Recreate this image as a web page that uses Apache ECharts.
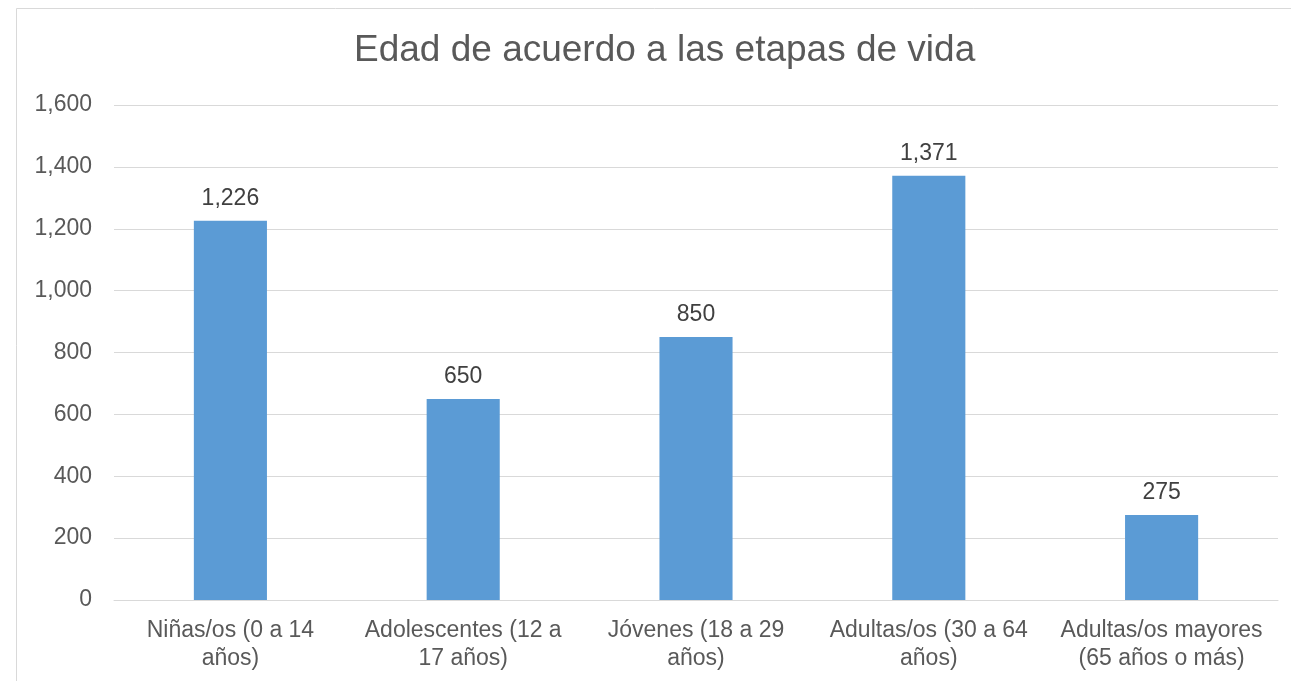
<!DOCTYPE html>
<html>
<head>
<meta charset="utf-8">
<script src="https://cdn.jsdelivr.net/npm/echarts@6/dist/echarts.min.js"></script>
<style>
html,body{margin:0;padding:0;background:#fff;}
#chart{width:1291px;height:681px;}
</style>
</head>
<body>
<div id="chart"></div>
<script>
const titleText = 'Edad de acuerdo a las etapas de vida';
const categories = [
  'Niñas/os (0 a 14\naños)',
  'Adolescentes (12 a\n17 años)',
  'Jóvenes (18 a 29\naños)',
  'Adultas/os (30 a 64\naños)',
  'Adultas/os mayores\n(65 años o más)'
];
const values = [1226, 650, 850, 1371, 275];
const yMin = 0, yMax = 1600, yInterval = 200;

const fmt = v => String(v).replace(/\B(?=(\d{3})+(?!\d))/g, ',');
const FONT = '"Liberation Sans", Arial, sans-serif';

const chart = echarts.init(document.getElementById('chart'), null, {renderer: 'canvas'});
chart.setOption({
  animation: false,
  backgroundColor: '#ffffff',
  graphic: [{
    type: 'polyline',
    shape: {points: [[16.5, 900], [16.5, 8.5], [1500, 8.5]]},
    style: {fill: null, stroke: '#D9D9D9', lineWidth: 1},
    silent: true, z: -10
  }],
  title: {
    text: titleText,
    left: 349,
    top: 27,
    textStyle: {fontFamily: FONT, fontSize: 37, fontWeight: 'normal', color: '#595959'}
  },
  grid: {left: 114, right: 13, top: 105, bottom: 81, containLabel: false},
  xAxis: {
    type: 'category',
    data: categories,
    axisLine: {show: true, lineStyle: {color: '#D9D9D9', width: 1}},
    axisTick: {show: false},
    axisLabel: {
      interval: 0,
      margin: 17,
      fontFamily: FONT, fontSize: 23, color: '#595959',
      lineHeight: 28, align: 'center'
    }
  },
  yAxis: {
    type: 'value',
    min: yMin, max: yMax, interval: yInterval,
    axisLine: {show: false},
    axisTick: {show: false},
    splitLine: {lineStyle: {color: '#D9D9D9', width: 1}},
    axisLabel: {
      margin: 22,
      fontFamily: FONT, fontSize: 23, color: '#595959',
      formatter: v => fmt(v)
    }
  },
  series: [{
    type: 'bar',
    data: values,
    barWidth: '31.4%',
    itemStyle: {color: '#5B9BD5'},
    label: {
      show: true,
      position: 'top',
      distance: 11,
      fontFamily: FONT, fontSize: 23, color: '#404040',
      formatter: p => fmt(p.value)
    }
  }]
});
</script>
</body>
</html>
